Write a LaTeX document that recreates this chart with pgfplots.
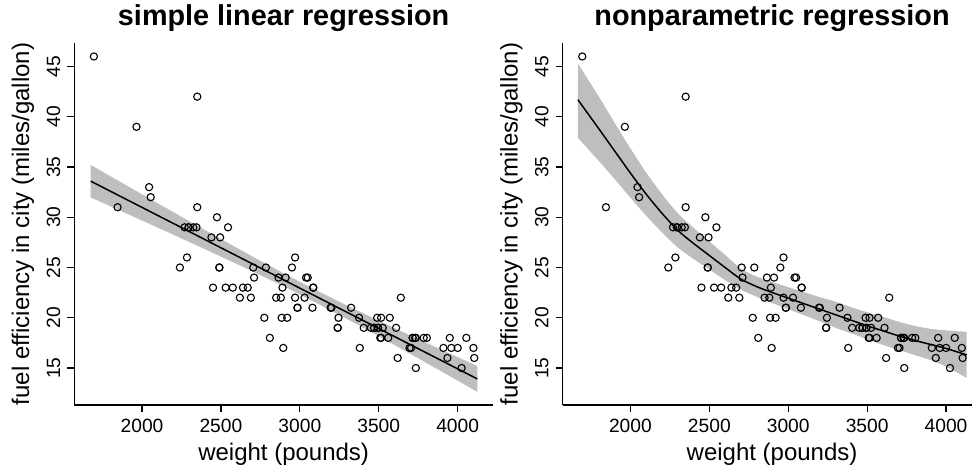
\documentclass[border=0pt]{standalone}
\usepackage{fontspec}
\setmainfont{Liberation Sans}
\usepackage{pgfplots}
\usepackage{pgfplotstable}
\pgfplotsset{compat=1.18}
\usepgfplotslibrary{fillbetween}
\definecolor{Band}{HTML}{BEBEBE}

% Cars93: weight (pounds), city mpg
\pgfplotstableread{
w    mpg
2705 25
3560 18
3375 20
3405 19
3640 22
2880 22
3470 19
4105 16
3495 19
3620 16
3935 16
2490 25
2785 25
3240 19
3195 21
3715 18
4025 15
3910 17
3380 17
3515 20
3085 23
3570 20
2270 29
2670 23
2970 22
3705 17
3080 21
3805 18
2295 29
3490 20
1845 31
2530 23
2690 22
2850 22
2710 24
3735 15
3325 21
3950 18
1695 46
2475 30
2865 24
2350 42
3040 24
2345 29
2620 22
2285 26
2885 20
4000 17
3510 18
3515 18
3695 17
4055 18
2325 29
2440 28
2970 26
3735 18
2895 17
2920 20
3525 19
2450 23
3610 19
2295 29
3730 18
2545 29
3050 24
4100 17
3200 21
2910 24
2890 23
3715 18
3470 19
2640 23
2350 31
2575 23
3240 19
3450 19
3495 19
2775 20
2495 28
2045 33
2490 25
3085 23
1965 39
2055 32
2950 25
3030 22
3785 18
2240 25
3960 17
2985 21
2810 18
2985 21
3245 20
}\cars

% linear fit with 95% band
\pgfplotstableread{
w    fit    up     lo
1675 33.593 35.210 31.976
1800 32.589 34.084 31.094
2000 30.983 32.287 29.679
2150 29.778 30.944 28.612
2300 28.573 29.608 27.538
2450 27.368 28.280 26.456
2600 26.163 26.967 25.359
2750 24.958 25.672 24.244
2900 23.753 24.405 23.101
3073 22.363 22.989 21.737
3300 20.540 21.211 19.869
3450 19.335 20.079 18.591
3600 18.130 18.971 17.289
3750 16.925 17.880 15.970
3900 15.720 16.801 14.639
4000 14.917 16.087 13.747
4125 13.913 15.198 12.628
}\linfit

% smooth fit with band
\pgfplotstableread{
w    fit   up    lo
1667 41.70 45.30 37.90
1800 38.80 42.00 35.60
1900 36.60 39.40 33.80
2000 34.40 36.85 31.95
2100 32.30 34.45 30.15
2200 30.40 32.30 28.50
2300 28.70 30.40 27.00
2400 27.40 28.95 25.85
2500 26.20 27.60 24.80
2600 25.00 26.25 23.75
2700 23.85 24.90 22.80
2800 23.10 24.10 22.10
2900 22.50 23.55 21.45
3000 21.95 23.05 20.85
3100 21.40 22.55 20.25
3200 20.85 22.05 19.65
3300 20.30 21.60 19.00
3400 19.75 21.05 18.45
3500 19.20 20.55 17.85
3600 18.70 20.10 17.30
3700 18.20 19.60 16.80
3800 17.75 19.20 16.30
3900 17.35 18.90 15.80
4000 16.95 18.75 15.15
4131 16.30 18.60 14.00
}\npfit

\pgfplotsset{rpanel/.style={
  scale only axis, width=209.35pt, height=181pt,
  xmin=1571, xmax=4224, ymin=11.32, ymax=47.34,
  axis x line*=bottom, axis y line*=left,
  axis line style={line width=0.7pt, black},
  xtick={2000,2500,...,4000}, ytick={15,20,...,45},
  tick align=outside, major tick length=3.5pt,
  tick style={line width=0.6pt, black},
  /pgf/number format/assume math mode=true,
  /pgf/number format/1000 sep={},
  tick label style={font=\fontsize{9.6}{11}\selectfont},
  yticklabel style={rotate=90, anchor=south},
  label style={font=\fontsize{12}{14}\selectfont},
  xlabel={weight (pounds)},
  ylabel={fuel efficiency in city (miles/gallon)},
  xlabel style={at={(axis description cs:0.5,-0.152)}, anchor=base},
  ylabel style={at={(axis description cs:-0.1225,0.5)}, anchor=center},
  every axis title shift=0pt,
  title style={at={(axis description cs:0.5,1.048)}, anchor=base,
    font=\fontsize{14.4}{17}\selectfont\bfseries},
  mark options={line width=0.55pt},
}}

\begin{document}
\begin{tikzpicture}
\begin{axis}[rpanel, at={(37.15pt,31.5pt)}, anchor=south west,
  title={simple linear regression}]
\addplot[name path=lup, draw=none] table[x=w,y=up] {\linfit};
\addplot[name path=llo, draw=none] table[x=w,y=lo] {\linfit};
\addplot[Band] fill between[of=lup and llo];
\addplot[only marks, mark=o, mark size=1.8pt] table[x=w,y=mpg] {\cars};
\addplot[black, line width=0.75pt] table[x=w,y=fit] {\linfit};
\end{axis}

\begin{axis}[rpanel, at={(281.35pt,31.5pt)}, anchor=south west,
  title={nonparametric regression}]
\addplot[name path=nup, draw=none, smooth] table[x=w,y=up] {\npfit};
\addplot[name path=nlo, draw=none, smooth] table[x=w,y=lo] {\npfit};
\addplot[Band] fill between[of=nup and nlo];
\addplot[only marks, mark=o, mark size=1.8pt] table[x=w,y=mpg] {\cars};
\addplot[black, line width=0.75pt, smooth] table[x=w,y=fit] {\npfit};
\end{axis}
\pgfresetboundingbox
\path[use as bounding box] (0,0) rectangle (486pt,234pt);
\end{tikzpicture}
\end{document}
